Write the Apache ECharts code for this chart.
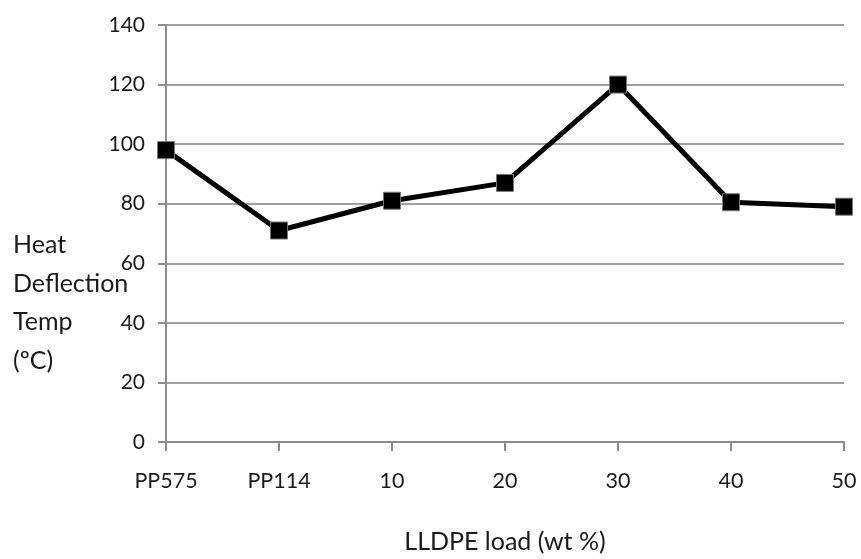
<!DOCTYPE html>
<html>
<head>
<meta charset="utf-8">
<script src="https://cdn.jsdelivr.net/npm/echarts@6/dist/echarts.min.js"></script>
<style>
  html, body { margin: 0; padding: 0; background: #fff; }
  #chart { width: 861px; height: 559px; }
</style>
</head>
<body>
<div id="chart"></div>
<script>
// Heat deflection temperature versus LLDPE loading
const categories = ['PP575', 'PP114', '10', '20', '30', '40', '50'];
const hdtValues = [98, 71, 81, 87, 120, 80.5, 79];
const yTicks = { min: 0, max: 140, interval: 20 };

const FONT = 'Lato';
const TEXT = '#1a1a1a';
const chart = echarts.init(document.getElementById('chart'));

chart.setOption({
  backgroundColor: '#ffffff',
  animation: false,
  grid: { left: 166, right: 17, top: 25, bottom: 116, containLabel: false },
  xAxis: {
    type: 'category',
    data: categories,
    boundaryGap: false,
    axisLine: { lineStyle: { color: '#8c8c8c', width: 2 } },
    axisTick: { show: true, alignWithLabel: true, length: 9, lineStyle: { color: '#8c8c8c', width: 2 } },
    axisLabel: { color: TEXT, fontFamily: FONT, fontSize: 21.5, margin: 28 },
    splitLine: { show: false },
    name: 'LLDPE load (wt %)',
    nameLocation: 'middle',
    nameGap: 87,
    nameTextStyle: { color: TEXT, fontFamily: FONT, fontSize: 25 }
  },
  yAxis: {
    type: 'value',
    min: yTicks.min,
    max: yTicks.max,
    interval: yTicks.interval,
    axisLine: { show: true, lineStyle: { color: '#8c8c8c', width: 2 } },
    axisTick: { show: true, length: 8, lineStyle: { color: '#8c8c8c', width: 2 } },
    axisLabel: { color: TEXT, fontFamily: FONT, fontSize: 21, margin: 21 },
    splitLine: { show: true, lineStyle: { color: '#a0a0a0', width: 2 } }
  },
  graphic: [{
    type: 'text',
    left: 13,
    top: 226,
    z: 10,
    style: {
      text: 'Heat\nDeflection\nTemp\n(ºC)',
      fontFamily: FONT,
      fontSize: 25,
      lineHeight: 38.5,
      fill: TEXT
    }
  }],
  series: [{
    type: 'line',
    data: hdtValues,
    symbol: 'rect',
    symbolSize: 17,
    lineStyle: { color: '#000', width: 5 },
    itemStyle: { color: '#000', borderColor: '#777', borderWidth: 1 },
    z: 5
  }]
});
</script>
</body>
</html>
